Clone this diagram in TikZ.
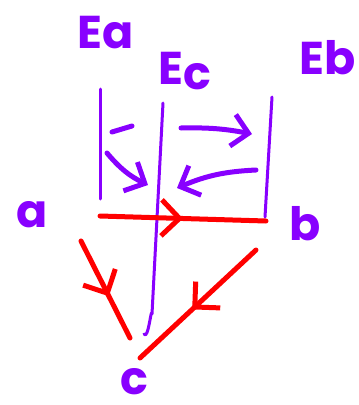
\documentclass[tikz,border=0pt]{standalone}
\usepackage{fontspec}
\setmainfont{Poppins}
\usetikzlibrary{arrows.meta,decorations.markings}
\definecolor{hpurple}{RGB}{136,0,255}
\definecolor{hred}{RGB}{255,0,0}
\tikzset{
  lbl/.style={text=hpurple, font=\fontsize{46}{46}\selectfont\bfseries, inner sep=0pt},
  pline/.style={draw=hpurple, line width=3pt, line cap=round, line join=round},
  parrow/.style={draw=hpurple, line width=5pt, line cap=round, line join=round,
    -{Straight Barb[length=16pt,width=32pt,line width=5pt]}},
  rline/.style={draw=hred, line width=5pt, line cap=round, line join=round},
  midtip/.style={postaction={decorate}, decoration={markings,
    mark=at position #1 with {\arrow{Straight Barb[length=18pt,width=36pt,line width=5pt]}}}}
}
\begin{document}
\begin{tikzpicture}[x=1pt,y=-1pt]
\useasboundingbox (0,0) rectangle (359,405);
\clip (0,0) rectangle (359,405);
% labels
\node[lbl] (Ea) at (106,33) {Ea};
\node[lbl] (Ec) at (185,71) {E\lower5pt\hbox{c}};
\node[lbl,anchor=west] (Eb) at (299,58) {Eb};
\node[lbl] (a) at (32,215) {a};
\node[lbl] (b) at (305,224) {b};
\node[lbl] (c) at (134,382) {c};
% purple lines
\coordinate (ea1) at (100,89);
\coordinate (ea2) at (100,199);
\coordinate (ec1) at (163,103);
\coordinate (ec2) at (152,314);
\coordinate (ec3) at (144,334);
\coordinate (eb1) at (272,97);
\coordinate (eb2) at (265,217);
\draw[pline] (ea1) -- (ea2);
\draw[pline] (ec1) -- (ec2) to[out=95,in=-60] (ec3);
\draw[pline] (eb1) -- (eb2);
% purple arrows
\coordinate (d1) at (112,132);
\coordinate (d2) at (132,126);
\coordinate (p1s) at (107,153);
\coordinate (p1e) at (148,185);
\coordinate (p2s) at (181,128);
\coordinate (p2e) at (252,134);
\coordinate (p3s) at (256,170);
\coordinate (p3e) at (177,188);
\draw[pline,line width=5pt] (d1) -- (d2);
\draw[parrow] (p1s) to[bend right=12] (p1e);
\draw[parrow] (p2s) to[bend left=6] (p2e);
\draw[parrow] (p3s) to[bend left=-10] (p3e);
% red edges
\coordinate (ra1) at (100,216);
\coordinate (rb1) at (266,221);
\coordinate (ra2) at (81,241);
\coordinate (rc1) at (130,338);
\coordinate (rb2) at (256,250);
\coordinate (rc2) at (140,358);
\draw[rline,midtip=0.5] (ra1) -- (rb1);
\draw[rline,midtip=0.57] (ra2) -- (rc1);
\draw[rline,midtip=0.55] (rb2) -- (rc2);
\end{tikzpicture}
\end{document}
